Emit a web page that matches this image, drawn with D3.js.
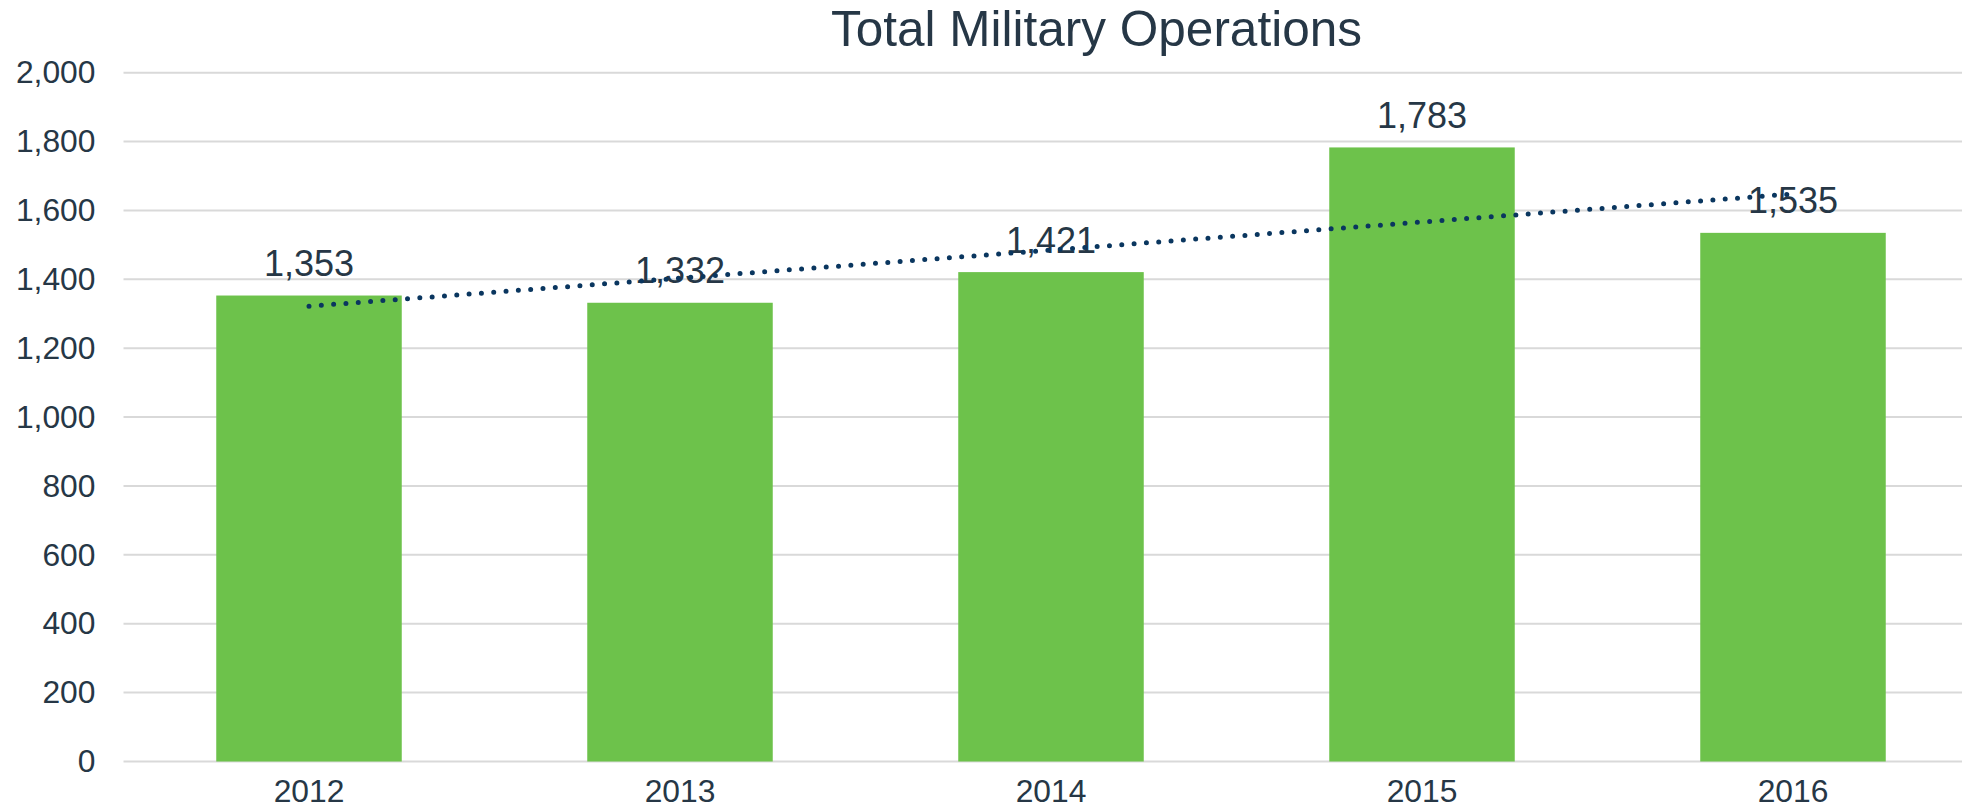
<!DOCTYPE html>
<html>
<head>
  <title>Total Military Operations</title>
  <script src="https://d3js.org/d3.v7.min.js"></script>
  <style>
    body { margin: 0; background: #fff; }
    text { font-family: "Liberation Sans", Arial, sans-serif; fill: #263746; }
  </style>
</head>
<body>
<svg id="chart" width="1962" height="807"></svg>
<script>
  // data
  const years = ["2012", "2013", "2014", "2015", "2016"];
  const operations = [1353, 1332, 1421, 1783, 1535];
  const yTicks = [0, 200, 400, 600, 800, 1000, 1200, 1400, 1600, 1800, 2000];
  // linear trendline, value at first and last year
  const trendEnds = [1322, 1648];

  const svg = d3.select("#chart");
  const plotLeft = 123.5, plotRight = 1978.5, plotTop = 72.7, plotBottom = 761.5;

  const x = d3.scaleBand()
      .domain(years)
      .range([plotLeft, plotRight])
      .paddingInner(0.5)
      .paddingOuter(0.25);

  const y = d3.scaleLinear()
      .domain([0, 2000])
      .range([plotBottom, plotTop]);

  // gridlines
  svg.append("g")
    .selectAll("line")
    .data(yTicks)
    .join("line")
      .attr("x1", plotLeft)
      .attr("x2", plotRight)
      .attr("y1", d => y(d))
      .attr("y2", d => y(d))
      .attr("stroke", "#d9d9d9")
      .attr("stroke-width", 2);

  // y axis labels
  const yAxis = svg.append("g")
      .attr("transform", `translate(${plotLeft - 28},0)`)
      .call(d3.axisLeft(y).tickValues(yTicks).tickFormat(d3.format(",")).tickSize(0).tickPadding(0));
  yAxis.select(".domain").remove();
  yAxis.selectAll("text")
      .attr("font-size", 31.8)
      .attr("font-family", "Liberation Sans, Arial, sans-serif")
      .attr("fill", "#263746");

  // bars
  svg.append("g")
    .selectAll("rect")
    .data(operations)
    .join("rect")
      .attr("x", (d, i) => x(years[i]))
      .attr("y", d => y(d))
      .attr("width", x.bandwidth())
      .attr("height", d => y(0) - y(d))
      .attr("fill", "#6dc24b");

  // x axis labels
  const xAxis = svg.append("g")
      .attr("transform", `translate(0,${plotBottom})`)
      .call(d3.axisBottom(x).tickSize(0).tickPadding(18));
  xAxis.select(".domain").remove();
  xAxis.selectAll("text")
      .attr("font-size", 31.8)
      .attr("font-family", "Liberation Sans, Arial, sans-serif")
      .attr("fill", "#263746");

  // data labels
  svg.append("g")
    .selectAll("text")
    .data(operations)
    .join("text")
      .attr("x", (d, i) => x(years[i]) + x.bandwidth() / 2)
      .attr("y", d => y(d) - 19.5)
      .attr("text-anchor", "middle")
      .attr("font-size", 36)
      .text(d3.format(","));

  // dotted trendline
  const trendX = [years[0], years[years.length - 1]].map(c => x(c) + x.bandwidth() / 2);
  svg.append("line")
      .attr("x1", trendX[0])
      .attr("y1", y(trendEnds[0]))
      .attr("x2", trendX[1])
      .attr("y2", y(trendEnds[1]))
      .attr("stroke", "#0a365f")
      .attr("stroke-width", 5)
      .attr("stroke-linecap", "round")
      .attr("stroke-dasharray", "0 12.35");

  // title
  svg.append("text")
      .attr("x", 1096.5)
      .attr("y", 46)
      .attr("text-anchor", "middle")
      .attr("font-size", 49.5)
      .text("Total Military Operations");
</script>
</body>
</html>
